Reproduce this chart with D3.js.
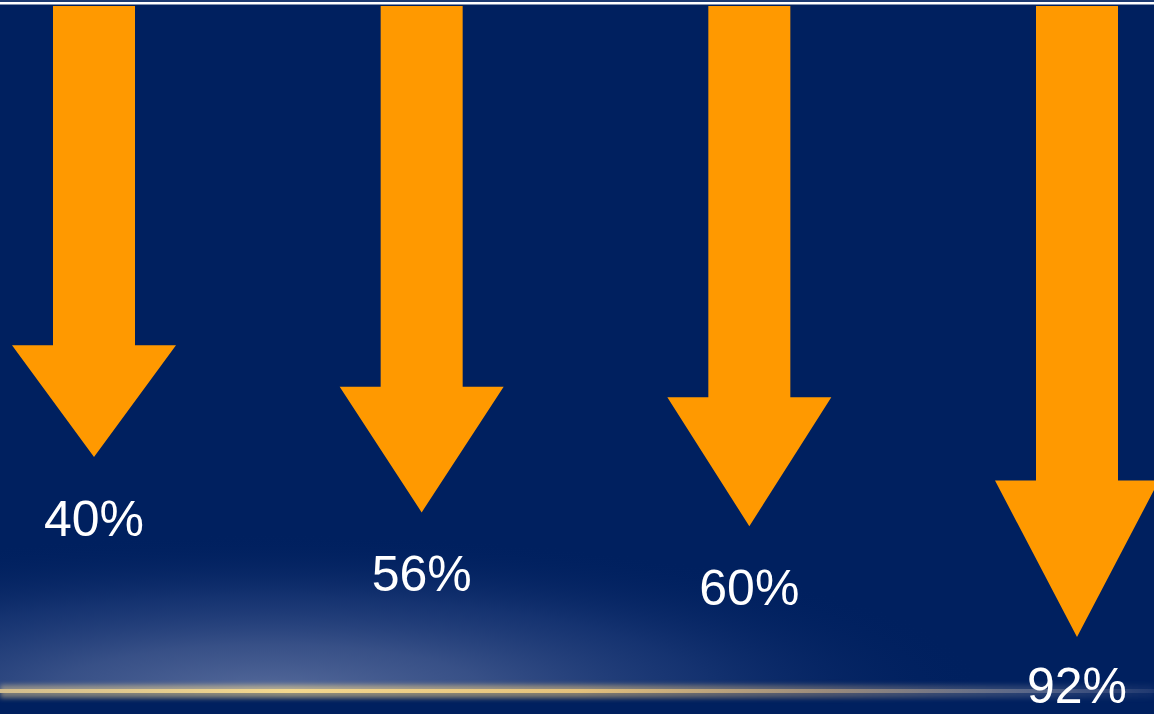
<!DOCTYPE html>
<html>
<head>
<meta charset="utf-8">
<script src="https://cdn.jsdelivr.net/npm/d3@7"></script>
<style>
  html, body { margin: 0; padding: 0; background: #00205f; overflow: hidden; }
  svg { display: block; }
</style>
</head>
<body>
<script>
// Share values shown by the four falling arrows
const categories = ["a", "b", "c", "d"];
const values = [40, 56, 60, 92];
const valueLabels = ["40%", "56%", "60%", "92%"];

const width = 1154, height = 714;
const top0 = 6;           // arrows hang from just under the top rule
const shaftHalf = 41, headHalf = 82;
const headShare = 0.248;  // head height as a share of the arrow length

const svg = d3.select("body").append("svg")
  .attr("width", width).attr("height", height);

const defs = svg.append("defs");

// soft horizon glow at the lower left
const glow = defs.append("radialGradient")
  .attr("id", "glow")
  .attr("gradientUnits", "userSpaceOnUse")
  .attr("cx", 270).attr("cy", 692).attr("r", 720)
  .attr("gradientTransform", "translate(0,692) scale(1,0.22) translate(0,-692)");
glow.append("stop").attr("offset", 0).attr("stop-color", "#5a6e9e").attr("stop-opacity", 0.95);
glow.append("stop").attr("offset", 0.3).attr("stop-color", "#4a6094").attr("stop-opacity", 0.75);
glow.append("stop").attr("offset", 0.6).attr("stop-color", "#2f4a86").attr("stop-opacity", 0.45);
glow.append("stop").attr("offset", 1).attr("stop-color", "#00205f").attr("stop-opacity", 0);

// golden horizon line, fading to the right
const gold = defs.append("linearGradient").attr("id", "gold")
  .attr("x1", 0).attr("x2", 1).attr("y1", 0).attr("y2", 0);
[[0, "#d6c08e", 0.95], [0.25, "#f3d88e", 1], [0.5, "#e8c47c", 0.95],
 [0.72, "#b09a80", 0.75], [0.9, "#868ba0", 0.5], [1, "#5a6690", 0.25]]
  .forEach(([o, c, a]) => gold.append("stop").attr("offset", o)
    .attr("stop-color", c).attr("stop-opacity", a));

defs.append("filter").attr("id", "soft")
  .attr("x", "-5%").attr("y", "-300%").attr("width", "110%").attr("height", "700%")
  .append("feGaussianBlur").attr("stdDeviation", 2.5);

defs.append("clipPath").attr("id", "above")
  .append("rect").attr("x", 0).attr("y", 0).attr("width", width).attr("height", 692);

svg.append("rect").attr("width", width).attr("height", height).attr("fill", "#00205f");
svg.append("rect").attr("width", width).attr("height", 692)
  .attr("fill", "url(#glow)").attr("clip-path", "url(#above)");

svg.append("rect").attr("x", 0).attr("y", 685).attr("width", width).attr("height", 13)
  .attr("fill", "url(#gold)").attr("opacity", 0.6).attr("filter", "url(#soft)");
svg.append("rect").attr("x", 0).attr("y", 689).attr("width", width).attr("height", 4)
  .attr("fill", "url(#gold)");

// top rule
svg.append("rect").attr("x", 0).attr("y", 0).attr("width", width).attr("height", 2)
  .attr("fill", "#1d3a72");
svg.append("rect").attr("x", 0).attr("y", 2).attr("width", width).attr("height", 2.5)
  .attr("fill", "#ffffff");

// scales
const x = d3.scalePoint().domain(categories).range([94, 1077]);
const tipY = d3.scaleLinear().domain([40, 92]).range([457, 637]);

const data = categories.map((c, i) => ({ key: c, value: values[i], label: valueLabels[i] }));

function arrowPath(d) {
  const cx = x(d.key), tip = tipY(d.value);
  const neck = tip - headShare * (tip - top0);
  const p = d3.path();
  p.moveTo(cx - shaftHalf, top0);
  p.lineTo(cx + shaftHalf, top0);
  p.lineTo(cx + shaftHalf, neck);
  p.lineTo(cx + headHalf, neck);
  p.lineTo(cx, tip);
  p.lineTo(cx - headHalf, neck);
  p.lineTo(cx - shaftHalf, neck);
  p.closePath();
  return p.toString();
}

svg.append("g").selectAll("path").data(data).join("path")
  .attr("d", arrowPath)
  .attr("fill", "#ff9900");

svg.append("g").selectAll("text").data(data).join("text")
  .attr("x", d => x(d.key))
  .attr("y", d => Math.min(tipY(d.value) + 79, 703))
  .attr("text-anchor", "middle")
  .attr("font-family", "'Liberation Sans', Arial, sans-serif")
  .attr("font-size", 50)
  .attr("fill", "#ffffff")
  .text(d => d.label);
</script>
</body>
</html>
